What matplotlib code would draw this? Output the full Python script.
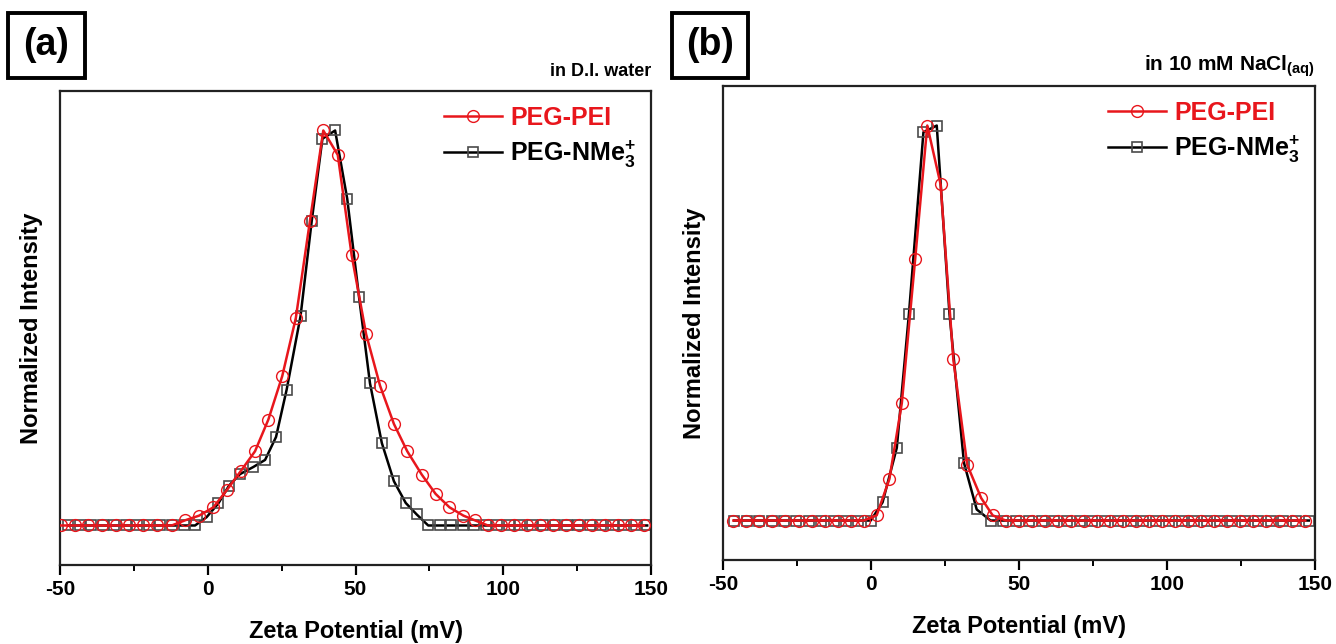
import matplotlib
matplotlib.use('Agg')
import matplotlib.pyplot as plt
from matplotlib.patches import Rectangle
from matplotlib.ticker import MultipleLocator

plt.rcParams['font.family'] = ['Liberation Sans', 'DejaVu Sans']
plt.rcParams['font.weight'] = 'bold'
plt.rcParams['mathtext.fontset'] = 'custom'
plt.rcParams['mathtext.rm'] = 'Liberation Sans:bold'
plt.rcParams['mathtext.bf'] = 'Liberation Sans:bold'
plt.rcParams['mathtext.default'] = 'bf'
plt.rcParams['axes.unicode_minus'] = False

# ====================== DATA ======================
# (a) in D.I. water
a_pei_x = [-49.6, -45.0, -40.4, -35.8, -31.2, -26.6, -22.0, -17.3, -12.2, -7.7, -2.9,
           1.9, 6.6, 11.1, 16.0, 20.5, 25.2, 29.8, 34.6, 39.1, 44.0, 48.7, 53.6, 58.3,
           63.0, 67.5, 72.4, 77.1, 81.8, 86.5, 90.4, 94.8, 99.2, 103.6, 108.0, 112.4,
           116.8, 121.2, 125.6, 130.0, 134.4, 138.8, 143.2, 147.6]
a_pei_y = [0, 0, 0, 0, 0, 0, 0, 0, 0, 0.013, 0.025,
           0.046, 0.091, 0.137, 0.188, 0.268, 0.378, 0.525, 0.772, 1.0, 0.938, 0.684, 0.484, 0.354,
           0.257, 0.188, 0.129, 0.080, 0.046, 0.025, 0.013, 0, 0, 0, 0, 0,
           0, 0, 0, 0, 0, 0, 0, 0]

a_nme_x = [-47.2, -43.3, -39.4, -35.5, -31.6, -27.7, -23.8, -19.9, -16.0, -12.1, -8.2, -4.3,
           -0.4, 3.6, 7.2, 10.9, 15.4, 19.4, 23.1, 26.7, 31.4, 35.2, 38.8, 43.1, 47.2,
           51.2, 54.9, 58.9, 63.0, 67.0, 70.7, 74.6, 78.5, 82.4, 86.3, 90.2, 94.1, 98.0,
           101.9, 105.8, 109.7, 113.6, 117.5, 121.4, 125.3, 129.2, 133.1, 137.0, 140.9,
           144.8, 148.7]
a_nme_y = [0, 0, 0, 0, 0, 0, 0, 0, 0, 0, 0, 0,
           0.021, 0.056, 0.101, 0.130, 0.148, 0.166, 0.224, 0.344, 0.530, 0.772, 0.979, 1.0, 0.827,
           0.578, 0.360, 0.209, 0.112, 0.057, 0.028, 0, 0, 0, 0, 0, 0, 0,
           0, 0, 0, 0, 0, 0, 0, 0, 0, 0, 0,
           0, 0]

# (b) in 10 mM NaCl(aq)
b_pei_x = [-46.5, -42.1, -37.7, -33.3, -28.9, -24.5, -20.1, -15.7, -11.3, -6.9, -2.5,
           1.9, 6.2, 10.4, 14.9, 19.0, 23.5, 27.8, 32.5, 37.2, 41.1,
           45.5, 49.9, 54.3, 58.7, 63.1, 67.5, 71.9, 76.3, 80.7, 85.1, 89.5, 93.9, 98.3,
           102.7, 107.1, 111.5, 115.9, 120.3, 124.7, 129.1, 133.5, 137.9, 142.3, 146.7]
b_pei_y = [0, 0, 0, 0, 0, 0, 0, 0, 0, 0, 0,
           0.013, 0.105, 0.297, 0.661, 1.0, 0.851, 0.408, 0.141, 0.057, 0.013,
           0, 0, 0, 0, 0, 0, 0, 0, 0, 0, 0, 0, 0,
           0, 0, 0, 0, 0, 0, 0, 0, 0, 0, 0]

b_nme_x = [-46.2, -42.0, -37.8, -33.6, -29.4, -25.2, -21.0, -16.8, -12.6, -8.4, -4.3,
           -0.1, 3.9, 8.7, 12.8, 17.7, 22.2, 26.5, 31.4, 35.7, 40.4,
           44.7, 49.0, 53.3, 57.6, 61.9, 66.2, 70.5, 74.8, 79.1, 83.4, 87.7, 92.0, 96.3,
           100.6, 104.9, 109.2, 113.5, 117.8, 122.1, 126.4, 130.7, 135.0, 139.3, 143.6, 147.9]
b_nme_y = [0, 0, 0, 0, 0, 0, 0, 0, 0, 0, 0,
           0, 0.046, 0.184, 0.523, 0.983, 1.0, 0.523, 0.146, 0.028, 0,
           0, 0, 0, 0, 0, 0, 0, 0, 0, 0, 0, 0, 0,
           0, 0, 0, 0, 0, 0, 0, 0, 0, 0, 0, 0]

x_ticks = [-50, 0, 50, 100, 150]
panel_tags = ['(a)', '(b)']
conditions = ['in D.I. water', r'in 10 mM NaCl$_{\mathbf{(aq)}}$']
condition_sizes = [13, 15]
label_pei = 'PEG-PEI'
label_nme = r'PEG-NMe$_{\mathbf{3}}^{\mathbf{+}}$'

RED = '#e8161c'
GREY = '#4a4a4a'

fig = plt.figure(figsize=(13.36, 6.44), dpi=100)
ax_a = fig.add_axes([0.0449, 0.1227, 0.4424, 0.736])
ax_b = fig.add_axes([0.5412, 0.1304, 0.4431, 0.736])

panels = [
    (ax_a, a_pei_x, a_pei_y, a_nme_x, a_nme_y),
    (ax_b, b_pei_x, b_pei_y, b_nme_x, b_nme_y),
]

for i, (ax, px, py, nx, ny) in enumerate(panels):
    ax.plot(nx, ny, color='black', lw=1.8, marker='s', ms=7.5, mfc='none',
            mec=GREY, mew=1.2, label=label_nme, zorder=2)
    ax.plot(px, py, color=RED, lw=1.8, marker='o', ms=8.5, mfc='none',
            mec=RED, mew=1.0, label=label_pei, zorder=3)

    ax.set_xlim(-50, 150)
    ax.set_ylim(-0.1, 1.1)
    ax.set_xticks(x_ticks)
    ax.xaxis.set_minor_locator(MultipleLocator(25))
    ax.set_yticks([])
    ax.tick_params(axis='x', which='major', direction='out', length=7, width=1.6,
                   labelsize=15, pad=4)
    ax.tick_params(axis='x', which='minor', direction='out', length=4, width=1.4)
    for lab in ax.get_xticklabels():
        lab.set_fontweight('bold')
    for sp in ax.spines.values():
        sp.set_linewidth(1.6)
        sp.set_color('#222222')

    ax.set_xlabel('Zeta Potential (mV)', fontsize=17, fontweight='bold', labelpad=15)
    ax.set_ylabel('Normalized Intensity', fontsize=17, fontweight='bold', labelpad=12)

    h, l = ax.get_legend_handles_labels()
    leg = ax.legend([h[1], h[0]], [l[1], l[0]], loc='upper right',
                    bbox_to_anchor=(1.0, 1.0), frameon=False, fontsize=18,
                    handlelength=2.3, handletextpad=0.35, labelspacing=0.35,
                    borderaxespad=0.2, numpoints=1)
    leg.get_texts()[0].set_color(RED)
    for t in leg.get_texts():
        t.set_fontweight('bold')

    ax.annotate(conditions[i], xy=(1.0, 1.0), xycoords='axes fraction',
                xytext=(0, 11), textcoords='offset points', ha='right', va='baseline',
                fontsize=condition_sizes[i], fontweight='bold')

# panel tags in boxes
tag_boxes = [(0.006, 0.8789, 0.0576, 0.1009), (0.503, 0.8789, 0.0569, 0.1009)]
for tag, (x0, y0, w, h) in zip(panel_tags, tag_boxes):
    fig.patches.append(Rectangle((x0, y0), w, h, transform=fig.transFigure,
                                 fill=False, lw=2.8, ec='black'))
    fig.text(x0 + w / 2, y0 + h / 2, tag, ha='center', va='center',
             fontsize=27, fontweight='bold')

fig.savefig('out.png', dpi=100)
